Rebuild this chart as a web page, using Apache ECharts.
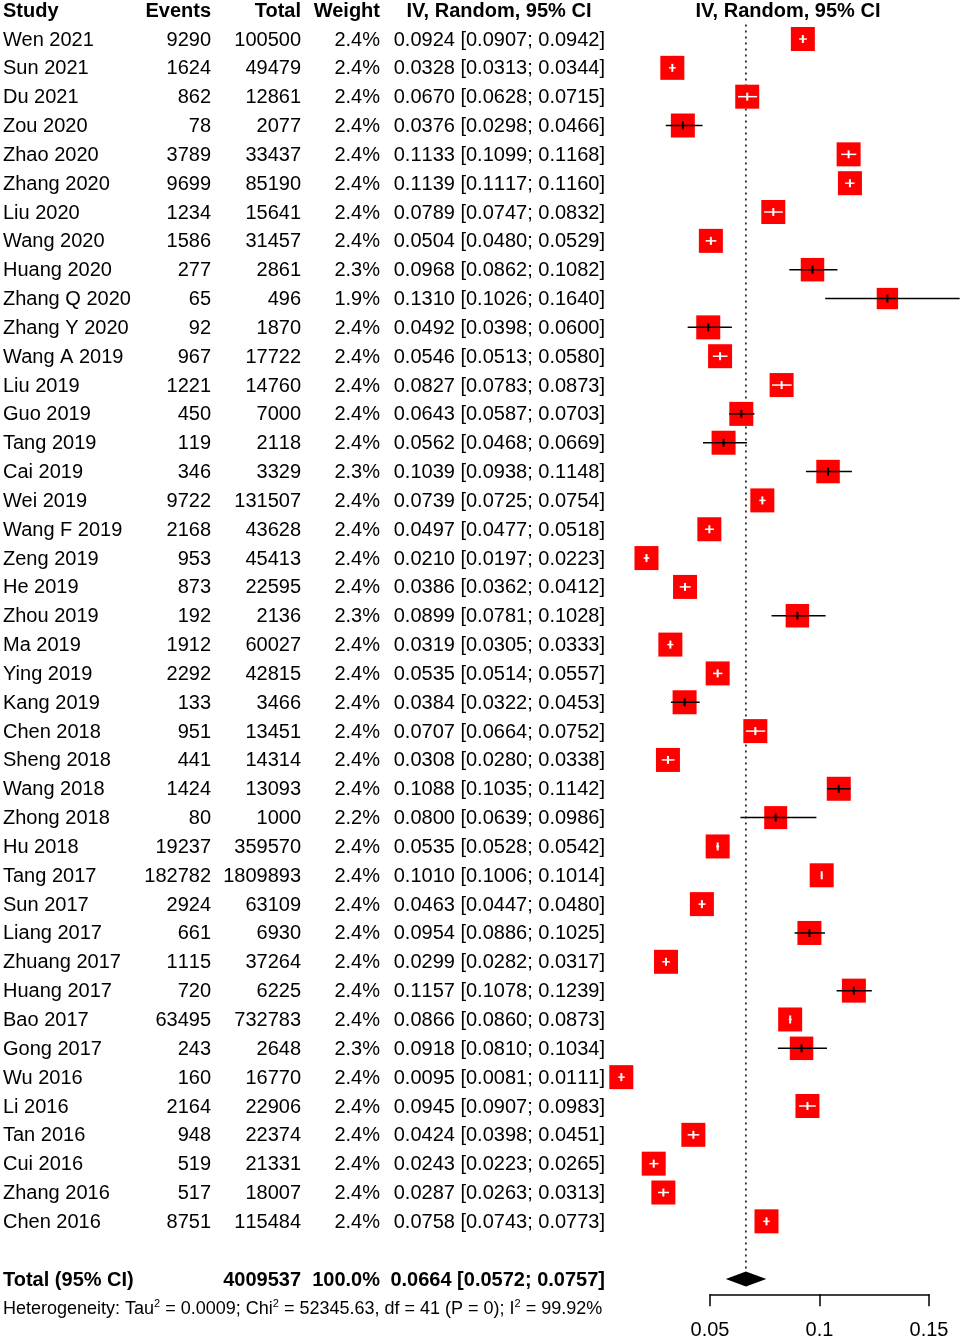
<!DOCTYPE html>
<html>
<head>
<meta charset="utf-8">
<title>Forest plot</title>
<script src="https://cdn.jsdelivr.net/npm/echarts@6/dist/echarts.min.js"></script>
<style>
  html, body { margin: 0; padding: 0; background: #fff; }
  #main { width: 961px; height: 1339px; }
</style>
</head>
<body>
<div id="main"></div>
<script>
// 数据
var studies = ['Wen 2021', 'Sun 2021', 'Du 2021', 'Zou 2020', 'Zhao 2020', 'Zhang 2020', 'Liu 2020', 'Wang 2020',
  'Huang 2020', 'Zhang Q 2020', 'Zhang Y 2020', 'Wang A 2019', 'Liu 2019', 'Guo 2019', 'Tang 2019', 'Cai 2019',
  'Wei 2019', 'Wang F 2019', 'Zeng 2019', 'He 2019', 'Zhou 2019', 'Ma 2019', 'Ying 2019', 'Kang 2019',
  'Chen 2018', 'Sheng 2018', 'Wang 2018', 'Zhong 2018', 'Hu 2018', 'Tang 2017', 'Sun 2017', 'Liang 2017',
  'Zhuang 2017', 'Huang 2017', 'Bao 2017', 'Gong 2017', 'Wu 2016', 'Li 2016', 'Tan 2016', 'Cui 2016',
  'Zhang 2016', 'Chen 2016'];
var events = [9290, 1624, 862, 78, 3789, 9699, 1234, 1586, 277, 65, 92, 967, 1221, 450, 119, 346,
  9722, 2168, 953, 873, 192, 1912, 2292, 133, 951, 441, 1424, 80, 19237, 182782, 2924, 661,
  1115, 720, 63495, 243, 160, 2164, 948, 519, 517, 8751];
var totals = [100500, 49479, 12861, 2077, 33437, 85190, 15641, 31457, 2861, 496, 1870, 17722, 14760, 7000, 2118, 3329,
  131507, 43628, 45413, 22595, 2136, 60027, 42815, 3466, 13451, 14314, 13093, 1000, 359570, 1809893, 63109, 6930,
  37264, 6225, 732783, 2648, 16770, 22906, 22374, 21331, 18007, 115484];
var weights = [2.4, 2.4, 2.4, 2.4, 2.4, 2.4, 2.4, 2.4, 2.3, 1.9, 2.4, 2.4, 2.4, 2.4, 2.4, 2.3,
  2.4, 2.4, 2.4, 2.4, 2.3, 2.4, 2.4, 2.4, 2.4, 2.4, 2.4, 2.2, 2.4, 2.4, 2.4, 2.4,
  2.4, 2.4, 2.4, 2.3, 2.4, 2.4, 2.4, 2.4, 2.4, 2.4];
var est = [0.0924, 0.0328, 0.0670, 0.0376, 0.1133, 0.1139, 0.0789, 0.0504, 0.0968, 0.1310, 0.0492, 0.0546, 0.0827, 0.0643, 0.0562, 0.1039,
  0.0739, 0.0497, 0.0210, 0.0386, 0.0899, 0.0319, 0.0535, 0.0384, 0.0707, 0.0308, 0.1088, 0.0800, 0.0535, 0.1010, 0.0463, 0.0954,
  0.0299, 0.1157, 0.0866, 0.0918, 0.0095, 0.0945, 0.0424, 0.0243, 0.0287, 0.0758];
var lower = [0.0907, 0.0313, 0.0628, 0.0298, 0.1099, 0.1117, 0.0747, 0.0480, 0.0862, 0.1026, 0.0398, 0.0513, 0.0783, 0.0587, 0.0468, 0.0938,
  0.0725, 0.0477, 0.0197, 0.0362, 0.0781, 0.0305, 0.0514, 0.0322, 0.0664, 0.0280, 0.1035, 0.0639, 0.0528, 0.1006, 0.0447, 0.0886,
  0.0282, 0.1078, 0.0860, 0.0810, 0.0081, 0.0907, 0.0398, 0.0223, 0.0263, 0.0743];
var upper = [0.0942, 0.0344, 0.0715, 0.0466, 0.1168, 0.1160, 0.0832, 0.0529, 0.1082, 0.1640, 0.0600, 0.0580, 0.0873, 0.0703, 0.0669, 0.1148,
  0.0754, 0.0518, 0.0223, 0.0412, 0.1028, 0.0333, 0.0557, 0.0453, 0.0752, 0.0338, 0.1142, 0.0986, 0.0542, 0.1014, 0.0480, 0.1025,
  0.0317, 0.1239, 0.0873, 0.1034, 0.0111, 0.0983, 0.0451, 0.0265, 0.0313, 0.0773];
// 合并结果
var pooled = [0.0664, 0.0572, 0.0757];
var pooledTotal = 4009537;
var xTicks = [0.05, 0.1, 0.15];
var heterogeneity = 'Heterogeneity: Tau{s|2} = 0.0009; Chi{s|2} = 52345.63, df = 41 (P = 0); I{s|2} = 99.92%';

window.onload = function() {
  var FONT = '"Liberation Sans", Arial, Helvetica, sans-serif';
  var nRows = studies.length;
  var totalRow = nRows + 1;
  var hetRow = nRows + 2;

  function ci(e, l, u) {
    return e.toFixed(4) + ' [' + l.toFixed(4) + '; ' + u.toFixed(4) + ']';
  }
  // "11" 有字距调整, 插入零宽字符让数字等宽
  function noKern(s) {
    return s.replace(/1(?=1)/g, '1\u200B');
  }

  // 表格每一行的文字
  var tableRows = [];
  tableRows.push({ row: -1, bold: true, header: true, cells: ['Study', 'Events', 'Total', 'Weight', 'IV, Random, 95% CI', 'IV, Random, 95% CI'] });
  for (var i = 0; i < nRows; i++) {
    tableRows.push({ row: i, bold: false, cells: [studies[i], String(events[i]), String(totals[i]), weights[i].toFixed(1) + '%', ci(est[i], lower[i], upper[i]), ''] });
  }
  tableRows.push({ row: totalRow, bold: true, cells: ['Total (95% CI)', '', String(pooledTotal), '100.0%', ci(pooled[0], pooled[1], pooled[2]), ''] });

  // 列的位置 (像素) 与对齐方式
  var colX = [3, 211, 301, 380, 605, 788];
  var colAlign = ['left', 'right', 'right', 'right', 'right', 'center'];

  var studyData = [];
  for (var j = 0; j < nRows; j++) {
    studyData.push([est[j], j, lower[j], upper[j], weights[j]]);
  }

  var chartDom = document.getElementById('main');
  var myChart = echarts.init(chartDom, null, { renderer: 'canvas' });

  var option = {
    animation: false,
    backgroundColor: '#fff',
    grid: { left: 710, right: 32, top: 10.16, bottom: 44.7, containLabel: false, outerBoundsMode: 'none' },
    xAxis: {
      type: 'value',
      min: xTicks[0],
      max: xTicks[xTicks.length - 1],
      interval: 0.05,
      splitLine: { show: false },
      axisLine: { onZero: false, lineStyle: { color: '#000', width: 1.5 } },
      axisTick: { length: 12, lineStyle: { color: '#000', width: 1.5 } },
      axisLabel: { color: '#000', fontSize: 20, fontFamily: FONT, margin: 26 }
    },
    yAxis: {
      type: 'value',
      inverse: true,
      min: -1,
      max: 43.53,
      show: false
    },
    series: [
      {
        // 虚线: 合并效应
        type: 'custom',
        data: [[pooled[0], -0.5]],
        renderItem: function(params, api) {
          var p1 = api.coord([api.value(0), -0.5]);
          var p2 = api.coord([api.value(0), totalRow - 0.25]);
          return {
            type: 'line',
            shape: { x1: p1[0], y1: p1[1], x2: p2[0], y2: p2[1] },
            style: { stroke: '#000', lineWidth: 1.5, lineDash: [2, 4] }
          };
        }
      },
      {
        // 每个研究: 方块 + 置信区间
        type: 'custom',
        data: studyData,
        renderItem: function(params, api) {
          var row = api.value(1);
          var c = api.coord([api.value(0), row]);
          var pl = api.coord([api.value(2), row])[0];
          var ph = api.coord([api.value(3), row])[0];
          var s = 24 * Math.sqrt(api.value(4) / 2.4);
          var inside = pl > c[0] - s / 2 + 1.5 && ph < c[0] + s / 2 - 1.5;
          var col = inside ? '#fff' : '#000';
          return {
            type: 'group',
            children: [
              { type: 'rect', shape: { x: c[0] - s / 2, y: c[1] - s / 2, width: s, height: s }, style: { fill: '#ff0000' } },
              { type: 'line', shape: { x1: pl, y1: c[1], x2: ph, y2: c[1] }, style: { stroke: col, lineWidth: 1.5 } },
              { type: 'line', shape: { x1: c[0], y1: c[1] - 4, x2: c[0], y2: c[1] + 4 }, style: { stroke: col, lineWidth: 2 } }
            ]
          };
        }
      },
      {
        // 合并效应菱形
        type: 'custom',
        data: [[pooled[0], totalRow, pooled[1], pooled[2]]],
        renderItem: function(params, api) {
          var r = api.value(1);
          var pts = [
            api.coord([api.value(2), r]),
            api.coord([api.value(0), r - 0.26]),
            api.coord([api.value(3), r]),
            api.coord([api.value(0), r + 0.26])
          ];
          return { type: 'polygon', shape: { points: pts }, style: { fill: '#000' } };
        }
      },
      {
        // 左侧表格文字
        type: 'custom',
        data: tableRows.map(function(t) { return [xTicks[0], t.row]; }),
        renderItem: function(params, api) {
          var t = tableRows[params.dataIndex];
          var y = api.coord([api.value(0), api.value(1)])[1] + 1;
          var children = [];
          for (var k = 0; k < t.cells.length; k++) {
            if (!t.cells[k]) continue;
            var x = colX[k], align = colAlign[k];
            if (t.header && k === 4) { x = 499; align = 'center'; }
            children.push({
              type: 'text',
              style: {
                text: noKern(t.cells[k]), x: x, y: y,
                align: align, verticalAlign: 'middle',
                fill: '#000', font: (t.bold ? 'bold ' : '') + '20px ' + FONT
              }
            });
          }
          return { type: 'group', children: children };
        }
      },
      {
        // 异质性
        type: 'custom',
        data: [[xTicks[0], hetRow]],
        renderItem: function(params, api) {
          var y = api.coord([api.value(0), api.value(1)])[1] + 1;
          return {
            type: 'text',
            style: {
              text: heterogeneity, x: 3, y: y, align: 'left', verticalAlign: 'middle',
              fill: '#000', fontSize: 18, fontFamily: FONT, lineHeight: 21,
              rich: { s: { fontSize: 11, fontFamily: FONT, verticalAlign: 'top', lineHeight: 21 } }
            }
          };
        }
      }
    ]
  };
  option && myChart.setOption(option);
};
</script>
</body>
</html>
